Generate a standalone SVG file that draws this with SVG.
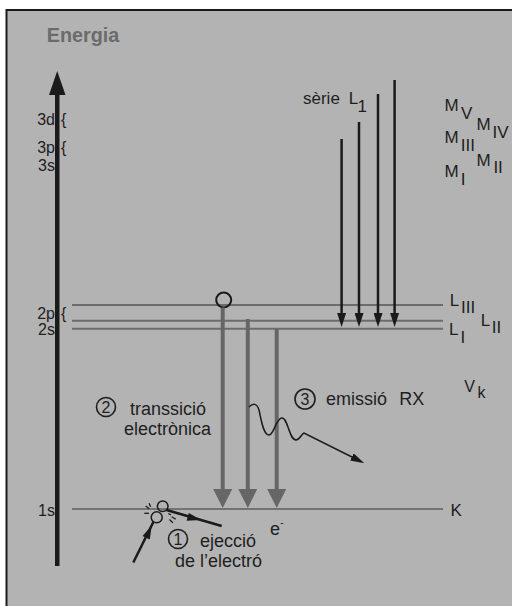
<svg xmlns="http://www.w3.org/2000/svg" width="512" height="606" viewBox="0 0 512 606">
<defs>
<style>
text{font-family:"Liberation Sans",Arial,sans-serif;fill:#1e1e1e}
.lbl{font-size:17px}
.sm{font-size:16px}
.big{font-size:18px}
.lev{stroke:#6c6c6c;stroke-width:2;fill:none}
.tr{stroke:#666;stroke-width:4;fill:none}
.ser{stroke:#1a1a1a;stroke-width:2.5;fill:none}
.num{fill:none;stroke:#1e1e1e;stroke-width:1.6}
.el{fill:none;stroke:#1a1a1a;stroke-width:1.5}
.sp{stroke:#1a1a1a;stroke-width:1.3}
</style>
<marker id="gh" markerUnits="userSpaceOnUse" markerWidth="19" markerHeight="19" refX="11" refY="9.5" orient="auto"><path d="M0,0 L19,9.5 L0,19 Z" fill="#666"/></marker>
<marker id="bh" markerUnits="userSpaceOnUse" markerWidth="14" markerHeight="9" refX="7" refY="4.5" orient="auto"><path d="M0,0 L14,4.5 L0,9 Z" fill="#1a1a1a"/></marker>
<marker id="ph" markerUnits="userSpaceOnUse" markerWidth="14" markerHeight="8" refX="8" refY="4" orient="auto"><path d="M0,0 L14,4 L0,8 Z" fill="#1a1a1a"/></marker>
</defs>
<rect x="0" y="0" width="512" height="606" fill="#fff"/>
<rect id="frame" x="6.5" y="10" width="520" height="610" fill="#b3b3b3" stroke="#1a1a1a" stroke-width="2"/>
<text id="title" x="46.8" y="41.7" style="font-size:19.8px;font-weight:bold;fill:#6b6b6b">Energia</text>

<g id="axis">
<rect x="55" y="93" width="4.5" height="473" fill="#1a1a1a"/>
<path d="M57.2,71 L65.5,95 L49,95 Z" fill="#1a1a1a"/>
</g>

<g id="level-3">
<text class="sm" x="55" y="125" text-anchor="end">3d</text><text class="sm" x="61" y="125">{</text>
<text class="sm" x="55" y="153" text-anchor="end">3p</text><text class="sm" x="61" y="153">{</text>
<text class="sm" x="55" y="171" text-anchor="end">3s</text>
</g>

<g id="level-L">
<line class="lev" x1="72" y1="305" x2="443" y2="305"/>
<line class="lev" x1="72" y1="320.7" x2="443" y2="320.7"/>
<line class="lev" x1="72" y1="328.7" x2="443" y2="328.7"/>
<text class="sm" x="55" y="319" text-anchor="end">2p</text><text class="sm" x="61" y="319">{</text>
<text class="sm" x="55" y="335" text-anchor="end">2s</text>
<text class="lbl" x="449.7" y="306">L<tspan x="461" y="312.7">III</tspan></text>
<text class="lbl" x="480.7" y="326">L<tspan x="491.7" y="332.7">II</tspan></text>
<text class="lbl" x="449" y="335">L<tspan x="460.4" y="342.7">I</tspan></text>
</g>

<g id="level-K">
<line x1="72" y1="509" x2="443" y2="509" stroke="#5e5e5e" stroke-width="1.6"/>
<text class="sm" x="55" y="516" text-anchor="end">1s</text>
<text class="lbl" x="450.4" y="516">K</text>
</g>

<g id="level-M">
<text class="lbl" x="444.5" y="111">M<tspan x="461" y="119">V</tspan></text>
<text class="lbl" x="476.5" y="130">M<tspan x="492.5" y="138.3">IV</tspan></text>
<text class="lbl" x="444.5" y="143.3">M<tspan x="460.7" y="150.7">III</tspan></text>
<text class="lbl" x="476.5" y="166">M<tspan x="493.4" y="172.7">II</tspan></text>
<text class="lbl" x="444.5" y="177.3">M<tspan x="460.7" y="185">I</tspan></text>
</g>

<g id="vk"><text class="sm" x="464.3" y="391.7">V<tspan x="477.6" y="398.3">k</tspan></text></g>

<g id="serie-label"><text class="lbl" x="303" y="104.3">sèrie <tspan x="348.7">L</tspan><tspan x="357.6" y="111.7">1</tspan></text></g>

<g id="hole"><circle cx="223.7" cy="300" r="7.5" fill="none" stroke="#1a1a1a" stroke-width="2"/></g>

<g id="connectors">
<line class="tr" x1="222.7" y1="307.5" x2="222.7" y2="500" marker-end="url(#gh)"/>
<line class="tr" x1="247.8" y1="319" x2="247.8" y2="500" marker-end="url(#gh)"/>
<line class="tr" x1="276.7" y1="329" x2="276.7" y2="500" marker-end="url(#gh)"/>
<line class="ser" x1="341.6" y1="139" x2="341.6" y2="320" marker-end="url(#bh)"/>
<line class="ser" x1="359" y1="122" x2="359" y2="320" marker-end="url(#bh)" stroke-width="2"/>
<line class="ser" x1="378" y1="94" x2="378" y2="320" marker-end="url(#bh)" stroke-width="2"/>
<line class="ser" x1="394.6" y1="80" x2="394.6" y2="320" marker-end="url(#bh)"/>
<path id="photon" d="M249,407 C253,403 257,403 259,410 C261,418 263,435 269,435 C274,435 276,418 282,418 C288,418 289,440 296,440 C300,440 301,434 304,433 L359,460.5" fill="none" stroke="#1a1a1a" stroke-width="1.5" marker-end="url(#ph)"/>
<line x1="133.3" y1="562.5" x2="153.5" y2="521.7" stroke="#1a1a1a" stroke-width="2.5"/>
<path d="M151.7,525.5 L149.8,539.6 L142.6,536 Z" fill="#1a1a1a"/>
<line x1="166.5" y1="510" x2="221.7" y2="526" stroke="#1a1a1a" stroke-width="2.5"/>
<path d="M201,520 L186.6,520.8 L188.8,513.1 Z" fill="#1a1a1a"/>
</g>

<g id="ejection">
<circle class="el" cx="162.7" cy="506.2" r="5.3"/>
<circle class="el" cx="156.7" cy="517.3" r="5.5"/>
<line class="sp" x1="145.7" y1="506" x2="149.3" y2="508.7"/>
<line class="sp" x1="149" y1="503.3" x2="150.7" y2="506.7"/>
<line class="sp" x1="144.3" y1="513.3" x2="149" y2="513.3"/>
<line class="sp" x1="168.3" y1="513.5" x2="171" y2="515"/>
<line class="sp" x1="171.7" y1="516.7" x2="175.7" y2="519.3"/>
<line class="sp" x1="169.5" y1="519.5" x2="172.8" y2="522.7"/>
</g>

<g id="step1">
<circle class="num" cx="178" cy="539" r="9.5"/>
<text class="sm" x="178" y="544.7" text-anchor="middle">1</text>
<text class="big" x="200" y="547">ejecció</text>
<text class="big" x="175" y="566.5">de l’electró</text>
<text class="big" x="270" y="535">e<tspan x="280.3" y="526" style="font-size:10px">-</tspan></text>
</g>

<g id="step2">
<circle class="num" cx="106" cy="407" r="9.5"/>
<text class="sm" x="106" y="412.7" text-anchor="middle">2</text>
<text class="big" x="130" y="414.5">transsició</text>
<text class="big" x="124" y="435">electrònica</text>
</g>

<g id="step3">
<circle class="num" cx="305" cy="399" r="10"/>
<text class="sm" x="305" y="404.7" text-anchor="middle">3</text>
<text class="big" x="326" y="405">emissió <tspan x="399.3">RX</tspan></text>
</g>
</svg>
